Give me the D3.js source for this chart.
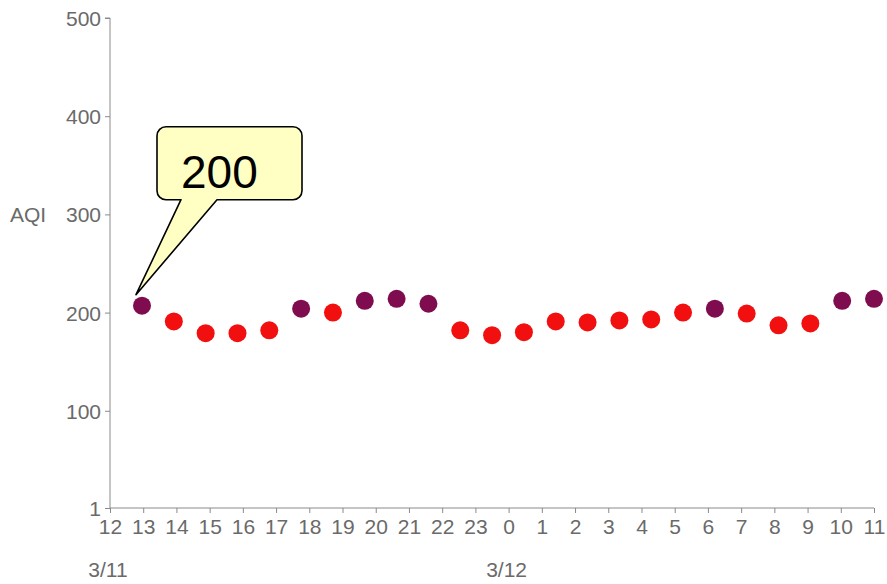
<!DOCTYPE html>
<html>
<head>
<meta charset="utf-8">
<script src="https://cdn.jsdelivr.net/npm/d3@7/dist/d3.min.js"></script>
<style>
  html, body { margin: 0; padding: 0; background: #fff; }
  svg { display: block; }
  text { font-family: "Liberation Sans", Arial, sans-serif; }
</style>
</head>
<body>
<svg id="chart" width="887" height="584"></svg>
<script>
// ---- data ----
const hourLabels = ["12","13","14","15","16","17","18","19","20","21","22","23",
                    "0","1","2","3","4","5","6","7","8","9","10","11"];
const dateLabels = [{at: "12", text: "3/11"}, {at: "0", text: "3/12"}];
const aqiValues = [207,191,179,179,182,204,200,212,214,209,182,177,
                   180,191,190,192,193,200,204,199,187,189,212,214];
const yTicks = [1,100,200,300,400,500];
const yLabel = "AQI";
const calloutText = "200";
const calloutIndex = 0;
const levelThresholds = [201];
const levelColors = ["#f20f0f", "#7e0c4f"];

// ---- layout ----
const svg = d3.select("#chart");
const axisColor = "#8a8a8a";
const textColor = "#6a6a6a";
const fs = 21;

const y = d3.scaleLinear().domain([1, 500]).range([508, 18]);
const xTick = d3.scalePoint().domain(hourLabels).range([110, 874]);
const xPt = d3.scalePoint().domain(d3.range(aqiValues.length)).range([142, 874]);
const color = d3.scaleThreshold().domain(levelThresholds).range(levelColors);

// y axis
const yAxis = svg.append("g").attr("transform", "translate(110,0)")
  .call(d3.axisLeft(y).tickValues(yTicks).tickSize(5).tickPadding(4).tickFormat(d3.format("d")));
yAxis.select(".domain").attr("stroke", axisColor).attr("d", `M-5,${y(500)}H0V${y(1)}`);
yAxis.selectAll(".tick line").attr("stroke", axisColor);
yAxis.selectAll(".tick text").attr("fill", textColor).attr("font-size", fs)
  .attr("font-family", "Liberation Sans, Arial, sans-serif").attr("dy", "0.36em");

// x axis
const xAxis = svg.append("g").attr("transform", `translate(0,${y(1)})`)
  .call(d3.axisBottom(xTick).tickSize(5).tickPadding(6));
xAxis.select(".domain").attr("stroke", axisColor).attr("d", `M${xTick("12")},0H${xTick("11")}`);
xAxis.selectAll(".tick line").attr("stroke", axisColor);
xAxis.selectAll(".tick text").attr("fill", textColor).attr("font-size", fs)
  .attr("font-family", "Liberation Sans, Arial, sans-serif").attr("dy", "0.72em");

// date labels
svg.append("g").selectAll("text").data(dateLabels).join("text")
  .attr("x", d => xTick(d.at) - 2)
  .attr("y", 577)
  .attr("text-anchor", "middle")
  .attr("fill", textColor)
  .attr("font-size", fs)
  .text(d => d.text);

// y label
svg.append("text").attr("x", 10).attr("y", y(300) + 8)
  .attr("fill", textColor).attr("font-size", fs).text(yLabel);

// points
svg.append("g").selectAll("circle").data(aqiValues).join("circle")
  .attr("cx", (d, i) => xPt(i))
  .attr("cy", d => y(d))
  .attr("r", 9)
  .attr("fill", d => color(d));

// callout
const px = xPt(calloutIndex), py = y(aqiValues[calloutIndex]);
const tipX = px - 6, tipY = py - 11;
const bx = px + 15, by = py - 179, bw = 145, bh = 73, r = 9;
const t1 = bx + 24, t2 = bx + 60;
const path = d3.path();
path.moveTo(bx + r, by);
path.lineTo(bx + bw - r, by);
path.arcTo(bx + bw, by, bx + bw, by + r, r);
path.lineTo(bx + bw, by + bh - r);
path.arcTo(bx + bw, by + bh, bx + bw - r, by + bh, r);
path.lineTo(t2, by + bh);
path.lineTo(tipX, tipY);
path.lineTo(t1, by + bh);
path.lineTo(bx + r, by + bh);
path.arcTo(bx, by + bh, bx, by + bh - r, r);
path.lineTo(bx, by + r);
path.arcTo(bx, by, bx + r, by, r);
path.closePath();
svg.append("path").attr("d", path.toString())
  .attr("fill", "#ffffc4").attr("stroke", "#000").attr("stroke-width", 1.6)
  .attr("stroke-linejoin", "round");
svg.append("text").attr("x", bx + 24).attr("y", by + 61)
  .attr("font-size", 46).attr("fill", "#000").text(calloutText);
</script>
</body>
</html>
